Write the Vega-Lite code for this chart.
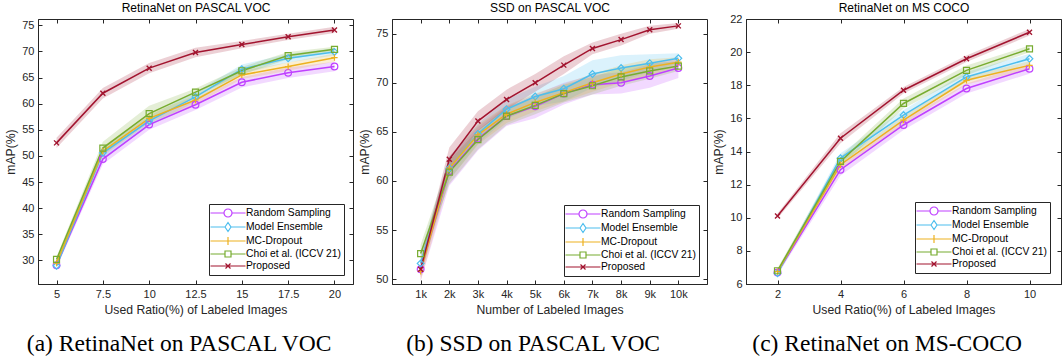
{
"$schema": "https://vega.github.io/schema/vega-lite/v6.json",
"padding": {"left": 4, "top": 1, "right": 0, "bottom": 0},
"spacing": 4,
"resolve": {"scale": {"color": "independent", "shape": "independent", "fill": "independent", "stroke": "independent"}, "legend": {"color": "independent", "shape": "independent"}},
"config": {
  "font": "Liberation Sans",
  "view": {"stroke": "#262626", "strokeWidth": 1},
  "axis": {"labelFont": "Liberation Sans", "titleFont": "Liberation Sans", "labelFontSize": 11, "titleFontSize": 12.2, "titleFontWeight": "normal", "labelColor": "#262626", "titleColor": "#262626", "domainColor": "#262626", "tickColor": "#262626", "gridColor": "#e1e1e1", "gridOpacity": 1, "tickSize": -4, "labelPadding": 8, "titlePadding": 4, "format": ".3~g"},
  "legend": {"title": null, "orient": "bottom-right", "padding": 3, "strokeColor": "#262626", "fillColor": "#ffffff", "symbolSize": 100, "symbolOffset": 10, "labelOffset": 12, "labelFontSize": 10.3, "labelFont": "Liberation Sans", "labelColor": "#000000", "rowPadding": 0, "symbolStrokeWidth": 1.2, "symbolFillColor": "transparent"},
  "title": {"font": "Liberation Serif", "fontSize": 23.5, "fontWeight": "normal", "color": "#000000", "orient": "bottom", "anchor": "middle", "frame": "bounds", "offset": 17}
},
"datasets": {
  "a": [
    {"m":"Random Sampling","x":5,"y":29.1,"lo":28.6,"hi":29.6},{"m":"Random Sampling","x":7.5,"y":49.4,"lo":48.4,"hi":50.4},{"m":"Random Sampling","x":10,"y":56.0,"lo":55.0,"hi":57.0},{"m":"Random Sampling","x":12.5,"y":59.8,"lo":58.8,"hi":60.8},{"m":"Random Sampling","x":15,"y":64.1,"lo":63.1,"hi":65.1},{"m":"Random Sampling","x":17.5,"y":65.9,"lo":64.9,"hi":66.9},{"m":"Random Sampling","x":20,"y":67.1,"lo":66.2,"hi":68.0},
    {"m":"Model Ensemble","x":5,"y":29.0,"lo":28.5,"hi":29.5},{"m":"Model Ensemble","x":7.5,"y":50.6,"lo":49.6,"hi":51.6},{"m":"Model Ensemble","x":10,"y":56.7,"lo":55.7,"hi":57.7},{"m":"Model Ensemble","x":12.5,"y":61.3,"lo":60.4,"hi":62.2},{"m":"Model Ensemble","x":15,"y":66.6,"lo":65.7,"hi":67.5},{"m":"Model Ensemble","x":17.5,"y":68.7,"lo":67.9,"hi":69.5},{"m":"Model Ensemble","x":20,"y":69.9,"lo":69.2,"hi":70.6},
    {"m":"MC-Dropout","x":5,"y":29.5,"lo":29.0,"hi":30.0},{"m":"MC-Dropout","x":7.5,"y":50.9,"lo":50.0,"hi":51.8},{"m":"MC-Dropout","x":10,"y":57.2,"lo":56.3,"hi":58.1},{"m":"MC-Dropout","x":12.5,"y":60.7,"lo":59.9,"hi":61.5},{"m":"MC-Dropout","x":15,"y":65.5,"lo":64.7,"hi":66.3},{"m":"MC-Dropout","x":17.5,"y":67.1,"lo":66.3,"hi":67.9},{"m":"MC-Dropout","x":20,"y":68.8,"lo":68.0,"hi":69.6},
    {"m":"Choi et al. (ICCV 21)","x":5,"y":30.2,"lo":29.7,"hi":30.7},{"m":"Choi et al. (ICCV 21)","x":7.5,"y":51.5,"lo":50.3,"hi":52.7},{"m":"Choi et al. (ICCV 21)","x":10,"y":58.1,"lo":56.6,"hi":59.6},{"m":"Choi et al. (ICCV 21)","x":12.5,"y":62.2,"lo":61.5,"hi":62.9},{"m":"Choi et al. (ICCV 21)","x":15,"y":66.3,"lo":65.6,"hi":67.0},{"m":"Choi et al. (ICCV 21)","x":17.5,"y":69.2,"lo":68.5,"hi":69.9},{"m":"Choi et al. (ICCV 21)","x":20,"y":70.4,"lo":69.9,"hi":70.9},
    {"m":"Proposed","x":5,"y":52.5,"lo":51.5,"hi":53.5},{"m":"Proposed","x":7.5,"y":62.0,"lo":61.0,"hi":63.0},{"m":"Proposed","x":10,"y":66.8,"lo":65.8,"hi":67.8},{"m":"Proposed","x":12.5,"y":69.8,"lo":68.9,"hi":70.7},{"m":"Proposed","x":15,"y":71.3,"lo":70.6,"hi":72.0},{"m":"Proposed","x":17.5,"y":72.8,"lo":72.2,"hi":73.4},{"m":"Proposed","x":20,"y":74.1,"lo":73.5,"hi":74.7}
  ],
  "b": [
    {"m":"Random Sampling","x":1,"y":51.0,"lo":49.8,"hi":52.2},{"m":"Random Sampling","x":2,"y":61.0,"lo":59.5,"hi":62.5},{"m":"Random Sampling","x":3,"y":64.3,"lo":63.1,"hi":65.5},{"m":"Random Sampling","x":4,"y":66.6,"lo":65.6,"hi":67.6},{"m":"Random Sampling","x":5,"y":67.6,"lo":66.4,"hi":68.8},{"m":"Random Sampling","x":6,"y":68.9,"lo":67.8,"hi":70.0},{"m":"Random Sampling","x":7,"y":69.8,"lo":68.8,"hi":70.8},{"m":"Random Sampling","x":8,"y":70.0,"lo":68.9,"hi":71.1},{"m":"Random Sampling","x":9,"y":70.7,"lo":69.5,"hi":71.9},{"m":"Random Sampling","x":10,"y":71.5,"lo":70.5,"hi":72.5},
    {"m":"Model Ensemble","x":1,"y":51.6,"lo":50.6,"hi":52.6},{"m":"Model Ensemble","x":2,"y":61.3,"lo":60.1,"hi":62.5},{"m":"Model Ensemble","x":3,"y":64.8,"lo":63.8,"hi":65.8},{"m":"Model Ensemble","x":4,"y":67.3,"lo":66.3,"hi":68.3},{"m":"Model Ensemble","x":5,"y":68.6,"lo":67.6,"hi":69.6},{"m":"Model Ensemble","x":6,"y":69.4,"lo":68.1,"hi":70.7},{"m":"Model Ensemble","x":7,"y":70.9,"lo":69.5,"hi":72.3},{"m":"Model Ensemble","x":8,"y":71.5,"lo":70.2,"hi":72.8},{"m":"Model Ensemble","x":9,"y":72.0,"lo":71.1,"hi":72.9},{"m":"Model Ensemble","x":10,"y":72.5,"lo":72.0,"hi":73.0},
    {"m":"MC-Dropout","x":1,"y":50.8,"lo":49.8,"hi":51.8},{"m":"MC-Dropout","x":2,"y":61.3,"lo":60.1,"hi":62.5},{"m":"MC-Dropout","x":3,"y":64.7,"lo":63.7,"hi":65.7},{"m":"MC-Dropout","x":4,"y":66.8,"lo":65.9,"hi":67.7},{"m":"MC-Dropout","x":5,"y":68.0,"lo":67.1,"hi":68.9},{"m":"MC-Dropout","x":6,"y":69.0,"lo":68.1,"hi":69.9},{"m":"MC-Dropout","x":7,"y":70.0,"lo":69.1,"hi":70.9},{"m":"MC-Dropout","x":8,"y":70.9,"lo":70.0,"hi":71.8},{"m":"MC-Dropout","x":9,"y":71.6,"lo":70.8,"hi":72.4},{"m":"MC-Dropout","x":10,"y":72.1,"lo":71.6,"hi":72.6},
    {"m":"Choi et al. (ICCV 21)","x":1,"y":52.6,"lo":51.7,"hi":53.5},{"m":"Choi et al. (ICCV 21)","x":2,"y":60.9,"lo":59.7,"hi":62.1},{"m":"Choi et al. (ICCV 21)","x":3,"y":64.2,"lo":63.2,"hi":65.2},{"m":"Choi et al. (ICCV 21)","x":4,"y":66.6,"lo":65.7,"hi":67.5},{"m":"Choi et al. (ICCV 21)","x":5,"y":67.7,"lo":66.8,"hi":68.6},{"m":"Choi et al. (ICCV 21)","x":6,"y":68.9,"lo":68.0,"hi":69.8},{"m":"Choi et al. (ICCV 21)","x":7,"y":69.7,"lo":68.8,"hi":70.6},{"m":"Choi et al. (ICCV 21)","x":8,"y":70.6,"lo":69.7,"hi":71.5},{"m":"Choi et al. (ICCV 21)","x":9,"y":71.2,"lo":70.4,"hi":72.0},{"m":"Choi et al. (ICCV 21)","x":10,"y":71.7,"lo":71.2,"hi":72.2},
    {"m":"Proposed","x":1,"y":51.0,"lo":50.2,"hi":51.8},{"m":"Proposed","x":2,"y":62.2,"lo":61.0,"hi":63.4},{"m":"Proposed","x":3,"y":66.1,"lo":65.1,"hi":67.1},{"m":"Proposed","x":4,"y":68.3,"lo":67.3,"hi":69.3},{"m":"Proposed","x":5,"y":70.0,"lo":69.1,"hi":70.9},{"m":"Proposed","x":6,"y":71.8,"lo":70.9,"hi":72.7},{"m":"Proposed","x":7,"y":73.5,"lo":72.9,"hi":74.1},{"m":"Proposed","x":8,"y":74.4,"lo":73.8,"hi":75.0},{"m":"Proposed","x":9,"y":75.4,"lo":75.0,"hi":75.8},{"m":"Proposed","x":10,"y":75.8,"lo":75.5,"hi":76.1}
  ],
  "c": [
    {"m":"Random Sampling","x":2,"y":6.7,"lo":6.55,"hi":6.85},{"m":"Random Sampling","x":4,"y":12.9,"lo":12.55,"hi":13.25},{"m":"Random Sampling","x":6,"y":15.6,"lo":15.3,"hi":15.9},{"m":"Random Sampling","x":8,"y":17.8,"lo":17.5,"hi":18.1},{"m":"Random Sampling","x":10,"y":19.0,"lo":18.7,"hi":19.3},
    {"m":"Model Ensemble","x":2,"y":6.65,"lo":6.5,"hi":6.8},{"m":"Model Ensemble","x":4,"y":13.6,"lo":13.3,"hi":13.9},{"m":"Model Ensemble","x":6,"y":16.2,"lo":15.9,"hi":16.5},{"m":"Model Ensemble","x":8,"y":18.5,"lo":18.2,"hi":18.8},{"m":"Model Ensemble","x":10,"y":19.6,"lo":19.3,"hi":19.9},
    {"m":"MC-Dropout","x":2,"y":6.75,"lo":6.6,"hi":6.9},{"m":"MC-Dropout","x":4,"y":13.2,"lo":12.95,"hi":13.45},{"m":"MC-Dropout","x":6,"y":15.9,"lo":15.65,"hi":16.15},{"m":"MC-Dropout","x":8,"y":18.3,"lo":18.05,"hi":18.55},{"m":"MC-Dropout","x":10,"y":19.2,"lo":18.95,"hi":19.45},
    {"m":"Choi et al. (ICCV 21)","x":2,"y":6.8,"lo":6.65,"hi":6.95},{"m":"Choi et al. (ICCV 21)","x":4,"y":13.4,"lo":13.1,"hi":13.7},{"m":"Choi et al. (ICCV 21)","x":6,"y":16.9,"lo":16.6,"hi":17.2},{"m":"Choi et al. (ICCV 21)","x":8,"y":18.9,"lo":18.6,"hi":19.2},{"m":"Choi et al. (ICCV 21)","x":10,"y":20.2,"lo":20.0,"hi":20.4},
    {"m":"Proposed","x":2,"y":10.1,"lo":9.95,"hi":10.25},{"m":"Proposed","x":4,"y":14.8,"lo":14.5,"hi":15.1},{"m":"Proposed","x":6,"y":17.7,"lo":17.5,"hi":17.9},{"m":"Proposed","x":8,"y":19.6,"lo":19.4,"hi":19.8},{"m":"Proposed","x":10,"y":21.2,"lo":21.0,"hi":21.4}
  ]
},
"hconcat": [
  {
    "width": 315, "height": 265,
    "data": {"name": "a"},
    "title": {"text": "(a) RetinaNet on PASCAL VOC"},
    "resolve": {"axis": {"x": "independent", "y": "independent"}},
    "layer": [
      {"transform": [{"filter": "datum.y < 0"}], "mark": {"type": "point", "filled": false, "strokeWidth": 1.2, "opacity": 1},
       "encoding": {"x": {"field": "x", "type": "quantitative", "axis": null}, "y": {"field": "y", "type": "quantitative", "axis": null},
         "color": {"field": "m", "type": "nominal", "scale": {"domain": ["Random Sampling", "Model Ensemble", "MC-Dropout", "Choi et al. (ICCV 21)", "Proposed"], "range": ["#BF40FF", "#4DBEEE", "#EDB120", "#77AC30", "#A2142F"]}, "legend": {"offset": 9, "encoding": {"symbols": {"fill": {"value": "transparent"}, "fillOpacity": {"value": 0}}}}},
         "shape": {"field": "m", "type": "nominal", "scale": {"domain": ["Random Sampling", "Model Ensemble", "MC-Dropout", "Choi et al. (ICCV 21)", "Proposed"], "range": ["M-3.5,0H-0.8A0.8,0.8,0,1,1,0.8,0A0.8,0.8,0,1,1,-0.8,0M0.8,0H3.5", "M-3.5,0H-0.6L0,-0.9L0.6,0L0,0.9L-0.6,0M0.6,0H3.5", "M-3.5,0H3.5M0,-0.8V0.8", "M-3.5,0H-0.6V-0.6H0.6V0.6H-0.6V0M0.6,0H3.5", "M-3.5,0H3.5M-0.5,-0.5L0.5,0.5M-0.5,0.5L0.5,-0.5"]}, "legend": {"offset": 9, "encoding": {"symbols": {"fill": {"value": "transparent"}, "fillOpacity": {"value": 0}}}}}}},
      {"mark": {"type": "area", "opacity": 0.2},
       "encoding": {
         "x": {"field": "x", "type": "quantitative", "scale": {"domain": [4, 21], "nice": false, "zero": false}, "axis": {"values": [5, 7.5, 10, 12.5, 15, 17.5, 20], "title": "Used Ratio(%) of Labeled Images"}},
         "y": {"field": "lo", "type": "quantitative", "scale": {"domain": [25.5, 76.2], "nice": false, "zero": false}, "axis": {"values": [30, 35, 40, 45, 50, 55, 60, 65, 70, 75], "title": "mAP(%)"}},
         "y2": {"field": "hi"},
         "fill": {"field": "m", "type": "nominal", "scale": {"domain": ["Random Sampling", "Model Ensemble", "MC-Dropout", "Choi et al. (ICCV 21)", "Proposed"], "range": ["#BF40FF", "#4DBEEE", "#EDB120", "#77AC30", "#A2142F"]}, "legend": null}}},
      {"mark": {"type": "line", "strokeWidth": 1.5},
       "encoding": {
         "x": {"field": "x", "type": "quantitative", "axis": {"orient": "top", "values": [5, 7.5, 10, 12.5, 15, 17.5, 20], "labels": false, "grid": false, "domain": false, "title": "RetinaNet on PASCAL VOC", "titleColor": "#000000", "titleFontSize": 12}},
         "y": {"field": "y", "type": "quantitative", "axis": {"orient": "right", "values": [30, 35, 40, 45, 50, 55, 60, 65, 70, 75], "labels": false, "grid": false, "domain": false, "title": null}},
         "stroke": {"field": "m", "type": "nominal", "scale": {"domain": ["Random Sampling", "Model Ensemble", "MC-Dropout", "Choi et al. (ICCV 21)", "Proposed"], "range": ["#BF40FF", "#4DBEEE", "#EDB120", "#77AC30", "#A2142F"]}, "legend": null}}},
      {"transform": [{"filter": "datum.m === 'Random Sampling'"}], "mark": {"type": "point", "shape": "circle", "filled": false, "size": 45, "strokeWidth": 1.2, "opacity": 1},
       "encoding": {"x": {"field": "x", "type": "quantitative", "axis": null}, "y": {"field": "y", "type": "quantitative", "axis": null}, "stroke": {"field": "m", "type": "nominal", "legend": null}}},
      {"transform": [{"filter": "datum.m === 'Model Ensemble'"}], "mark": {"type": "point", "shape": "diamond", "filled": false, "size": 45, "strokeWidth": 1.2, "opacity": 1},
       "encoding": {"x": {"field": "x", "type": "quantitative", "axis": null}, "y": {"field": "y", "type": "quantitative", "axis": null}, "stroke": {"field": "m", "type": "nominal", "legend": null}}},
      {"transform": [{"filter": "datum.m === 'MC-Dropout'"}], "mark": {"type": "point", "shape": "M-1,0H1M0,-1V1", "filled": false, "size": 40, "strokeWidth": 1.2, "opacity": 1},
       "encoding": {"x": {"field": "x", "type": "quantitative", "axis": null}, "y": {"field": "y", "type": "quantitative", "axis": null}, "stroke": {"field": "m", "type": "nominal", "legend": null}}},
      {"transform": [{"filter": "datum.m === 'Choi et al. (ICCV 21)'"}], "mark": {"type": "point", "shape": "square", "filled": false, "size": 36, "strokeWidth": 1.2, "opacity": 1},
       "encoding": {"x": {"field": "x", "type": "quantitative", "axis": null}, "y": {"field": "y", "type": "quantitative", "axis": null}, "stroke": {"field": "m", "type": "nominal", "legend": null}}},
      {"transform": [{"filter": "datum.m === 'Proposed'"}], "mark": {"type": "point", "shape": "M-1,-1L1,1M-1,1L1,-1", "filled": false, "size": 25, "strokeWidth": 1.4, "opacity": 1},
       "encoding": {"x": {"field": "x", "type": "quantitative", "axis": null}, "y": {"field": "y", "type": "quantitative", "axis": null}, "stroke": {"field": "m", "type": "nominal", "legend": null}}}
    ]
  },
  {
    "width": 315, "height": 265,
    "data": {"name": "b"},
    "title": {"text": "(b) SSD on PASCAL VOC"},
    "resolve": {"axis": {"x": "independent", "y": "independent"}},
    "layer": [
      {"transform": [{"filter": "datum.y < 0"}], "mark": {"type": "point", "filled": false, "strokeWidth": 1.2, "opacity": 1},
       "encoding": {"x": {"field": "x", "type": "quantitative", "axis": null}, "y": {"field": "y", "type": "quantitative", "axis": null},
         "color": {"field": "m", "type": "nominal", "scale": {"domain": ["Random Sampling", "Model Ensemble", "MC-Dropout", "Choi et al. (ICCV 21)", "Proposed"], "range": ["#BF40FF", "#4DBEEE", "#EDB120", "#77AC30", "#A2142F"]}, "legend": {"offset": 8, "encoding": {"symbols": {"fill": {"value": "transparent"}, "fillOpacity": {"value": 0}}}}},
         "shape": {"field": "m", "type": "nominal", "scale": {"domain": ["Random Sampling", "Model Ensemble", "MC-Dropout", "Choi et al. (ICCV 21)", "Proposed"], "range": ["M-3.5,0H-0.8A0.8,0.8,0,1,1,0.8,0A0.8,0.8,0,1,1,-0.8,0M0.8,0H3.5", "M-3.5,0H-0.6L0,-0.9L0.6,0L0,0.9L-0.6,0M0.6,0H3.5", "M-3.5,0H3.5M0,-0.8V0.8", "M-3.5,0H-0.6V-0.6H0.6V0.6H-0.6V0M0.6,0H3.5", "M-3.5,0H3.5M-0.5,-0.5L0.5,0.5M-0.5,0.5L0.5,-0.5"]}, "legend": {"offset": 8, "encoding": {"symbols": {"fill": {"value": "transparent"}, "fillOpacity": {"value": 0}}}}}}},
      {"mark": {"type": "area", "opacity": 0.2},
       "encoding": {
         "x": {"field": "x", "type": "quantitative", "scale": {"domain": [0, 11], "nice": false, "zero": false}, "axis": {"values": [1, 2, 3, 4, 5, 6, 7, 8, 9, 10], "labelExpr": "datum.value + 'k'", "title": "Number of Labeled Images"}},
         "y": {"field": "lo", "type": "quantitative", "scale": {"domain": [49.5, 76.5], "nice": false, "zero": false}, "axis": {"values": [50, 55, 60, 65, 70, 75], "title": "mAP(%)"}},
         "y2": {"field": "hi"},
         "fill": {"field": "m", "type": "nominal", "scale": {"domain": ["Random Sampling", "Model Ensemble", "MC-Dropout", "Choi et al. (ICCV 21)", "Proposed"], "range": ["#BF40FF", "#4DBEEE", "#EDB120", "#77AC30", "#A2142F"]}, "legend": null}}},
      {"mark": {"type": "line", "strokeWidth": 1.5},
       "encoding": {
         "x": {"field": "x", "type": "quantitative", "axis": {"orient": "top", "values": [1, 2, 3, 4, 5, 6, 7, 8, 9, 10], "labels": false, "grid": false, "domain": false, "title": "SSD on PASCAL VOC", "titleColor": "#000000", "titleFontSize": 12}},
         "y": {"field": "y", "type": "quantitative", "axis": {"orient": "right", "values": [50, 55, 60, 65, 70, 75], "labels": false, "grid": false, "domain": false, "title": null}},
         "stroke": {"field": "m", "type": "nominal", "scale": {"domain": ["Random Sampling", "Model Ensemble", "MC-Dropout", "Choi et al. (ICCV 21)", "Proposed"], "range": ["#BF40FF", "#4DBEEE", "#EDB120", "#77AC30", "#A2142F"]}, "legend": null}}},
      {"transform": [{"filter": "datum.m === 'Random Sampling'"}], "mark": {"type": "point", "shape": "circle", "filled": false, "size": 45, "strokeWidth": 1.2, "opacity": 1},
       "encoding": {"x": {"field": "x", "type": "quantitative", "axis": null}, "y": {"field": "y", "type": "quantitative", "axis": null}, "stroke": {"field": "m", "type": "nominal", "legend": null}}},
      {"transform": [{"filter": "datum.m === 'Model Ensemble'"}], "mark": {"type": "point", "shape": "diamond", "filled": false, "size": 45, "strokeWidth": 1.2, "opacity": 1},
       "encoding": {"x": {"field": "x", "type": "quantitative", "axis": null}, "y": {"field": "y", "type": "quantitative", "axis": null}, "stroke": {"field": "m", "type": "nominal", "legend": null}}},
      {"transform": [{"filter": "datum.m === 'MC-Dropout'"}], "mark": {"type": "point", "shape": "M-1,0H1M0,-1V1", "filled": false, "size": 40, "strokeWidth": 1.2, "opacity": 1},
       "encoding": {"x": {"field": "x", "type": "quantitative", "axis": null}, "y": {"field": "y", "type": "quantitative", "axis": null}, "stroke": {"field": "m", "type": "nominal", "legend": null}}},
      {"transform": [{"filter": "datum.m === 'Choi et al. (ICCV 21)'"}], "mark": {"type": "point", "shape": "square", "filled": false, "size": 36, "strokeWidth": 1.2, "opacity": 1},
       "encoding": {"x": {"field": "x", "type": "quantitative", "axis": null}, "y": {"field": "y", "type": "quantitative", "axis": null}, "stroke": {"field": "m", "type": "nominal", "legend": null}}},
      {"transform": [{"filter": "datum.m === 'Proposed'"}], "mark": {"type": "point", "shape": "M-1,-1L1,1M-1,1L1,-1", "filled": false, "size": 25, "strokeWidth": 1.4, "opacity": 1},
       "encoding": {"x": {"field": "x", "type": "quantitative", "axis": null}, "y": {"field": "y", "type": "quantitative", "axis": null}, "stroke": {"field": "m", "type": "nominal", "legend": null}}}
    ]
  },
  {
    "width": 315, "height": 265,
    "data": {"name": "c"},
    "title": {"text": "(c) RetinaNet on MS-COCO"},
    "resolve": {"axis": {"x": "independent", "y": "independent"}},
    "layer": [
      {"transform": [{"filter": "datum.y < 0"}], "mark": {"type": "point", "filled": false, "strokeWidth": 1.2, "opacity": 1},
       "encoding": {"x": {"field": "x", "type": "quantitative", "axis": null}, "y": {"field": "y", "type": "quantitative", "axis": null},
         "color": {"field": "m", "type": "nominal", "scale": {"domain": ["Random Sampling", "Model Ensemble", "MC-Dropout", "Choi et al. (ICCV 21)", "Proposed"], "range": ["#BF40FF", "#4DBEEE", "#EDB120", "#77AC30", "#A2142F"]}, "legend": {"offset": 11, "encoding": {"symbols": {"fill": {"value": "transparent"}, "fillOpacity": {"value": 0}}}}},
         "shape": {"field": "m", "type": "nominal", "scale": {"domain": ["Random Sampling", "Model Ensemble", "MC-Dropout", "Choi et al. (ICCV 21)", "Proposed"], "range": ["M-3.5,0H-0.8A0.8,0.8,0,1,1,0.8,0A0.8,0.8,0,1,1,-0.8,0M0.8,0H3.5", "M-3.5,0H-0.6L0,-0.9L0.6,0L0,0.9L-0.6,0M0.6,0H3.5", "M-3.5,0H3.5M0,-0.8V0.8", "M-3.5,0H-0.6V-0.6H0.6V0.6H-0.6V0M0.6,0H3.5", "M-3.5,0H3.5M-0.5,-0.5L0.5,0.5M-0.5,0.5L0.5,-0.5"]}, "legend": {"offset": 11, "encoding": {"symbols": {"fill": {"value": "transparent"}, "fillOpacity": {"value": 0}}}}}}},
      {"mark": {"type": "area", "opacity": 0.2},
       "encoding": {
         "x": {"field": "x", "type": "quantitative", "scale": {"domain": [1, 11], "nice": false, "zero": false}, "axis": {"values": [2, 4, 6, 8, 10], "title": "Used Ratio(%) of Labeled Images"}},
         "y": {"field": "lo", "type": "quantitative", "scale": {"domain": [6, 22], "nice": false, "zero": false}, "axis": {"values": [6, 8, 10, 12, 14, 16, 18, 20, 22], "title": "mAP(%)"}},
         "y2": {"field": "hi"},
         "fill": {"field": "m", "type": "nominal", "scale": {"domain": ["Random Sampling", "Model Ensemble", "MC-Dropout", "Choi et al. (ICCV 21)", "Proposed"], "range": ["#BF40FF", "#4DBEEE", "#EDB120", "#77AC30", "#A2142F"]}, "legend": null}}},
      {"mark": {"type": "line", "strokeWidth": 1.5},
       "encoding": {
         "x": {"field": "x", "type": "quantitative", "axis": {"orient": "top", "values": [2, 4, 6, 8, 10], "labels": false, "grid": false, "domain": false, "title": "RetinaNet on MS COCO", "titleColor": "#000000", "titleFontSize": 12}},
         "y": {"field": "y", "type": "quantitative", "axis": {"orient": "right", "values": [6, 8, 10, 12, 14, 16, 18, 20, 22], "labels": false, "grid": false, "domain": false, "title": null}},
         "stroke": {"field": "m", "type": "nominal", "scale": {"domain": ["Random Sampling", "Model Ensemble", "MC-Dropout", "Choi et al. (ICCV 21)", "Proposed"], "range": ["#BF40FF", "#4DBEEE", "#EDB120", "#77AC30", "#A2142F"]}, "legend": null}}},
      {"transform": [{"filter": "datum.m === 'Random Sampling'"}], "mark": {"type": "point", "shape": "circle", "filled": false, "size": 45, "strokeWidth": 1.2, "opacity": 1},
       "encoding": {"x": {"field": "x", "type": "quantitative", "axis": null}, "y": {"field": "y", "type": "quantitative", "axis": null}, "stroke": {"field": "m", "type": "nominal", "legend": null}}},
      {"transform": [{"filter": "datum.m === 'Model Ensemble'"}], "mark": {"type": "point", "shape": "diamond", "filled": false, "size": 45, "strokeWidth": 1.2, "opacity": 1},
       "encoding": {"x": {"field": "x", "type": "quantitative", "axis": null}, "y": {"field": "y", "type": "quantitative", "axis": null}, "stroke": {"field": "m", "type": "nominal", "legend": null}}},
      {"transform": [{"filter": "datum.m === 'MC-Dropout'"}], "mark": {"type": "point", "shape": "M-1,0H1M0,-1V1", "filled": false, "size": 40, "strokeWidth": 1.2, "opacity": 1},
       "encoding": {"x": {"field": "x", "type": "quantitative", "axis": null}, "y": {"field": "y", "type": "quantitative", "axis": null}, "stroke": {"field": "m", "type": "nominal", "legend": null}}},
      {"transform": [{"filter": "datum.m === 'Choi et al. (ICCV 21)'"}], "mark": {"type": "point", "shape": "square", "filled": false, "size": 36, "strokeWidth": 1.2, "opacity": 1},
       "encoding": {"x": {"field": "x", "type": "quantitative", "axis": null}, "y": {"field": "y", "type": "quantitative", "axis": null}, "stroke": {"field": "m", "type": "nominal", "legend": null}}},
      {"transform": [{"filter": "datum.m === 'Proposed'"}], "mark": {"type": "point", "shape": "M-1,-1L1,1M-1,1L1,-1", "filled": false, "size": 25, "strokeWidth": 1.4, "opacity": 1},
       "encoding": {"x": {"field": "x", "type": "quantitative", "axis": null}, "y": {"field": "y", "type": "quantitative", "axis": null}, "stroke": {"field": "m", "type": "nominal", "legend": null}}}
    ]
  }
]
}
